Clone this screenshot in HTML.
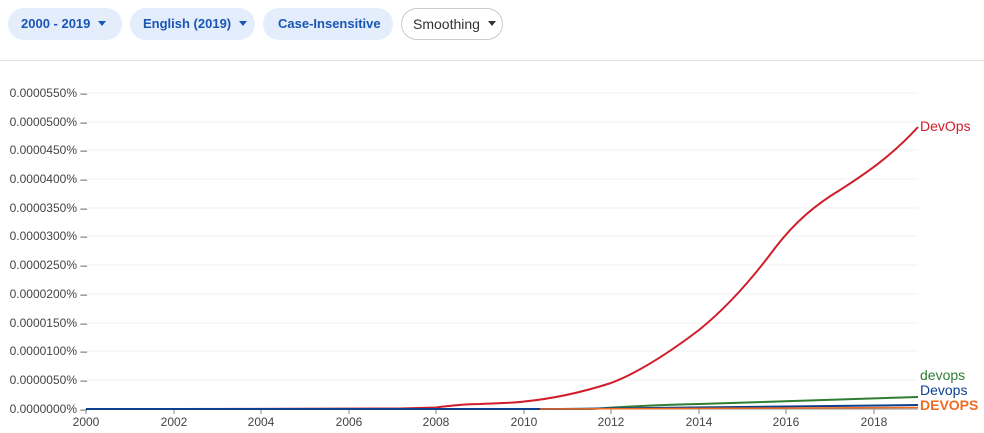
<!DOCTYPE html><html><head><style>
body{margin:0;width:984px;height:433px;background:#fff;font-family:"Liberation Sans",Arial,sans-serif;overflow:hidden;position:relative}
.chip{position:absolute;top:8px;height:32px;border-radius:16px;background:#e3edfc;color:#1a56b5;font-weight:bold;font-size:13px;line-height:32px;box-sizing:border-box;padding-left:13px;white-space:nowrap}
.car{display:inline-block;border-left:4px solid transparent;border-right:4px solid transparent;border-top:5px solid currentColor;vertical-align:middle;margin-left:8px;margin-top:-3px}
</style></head><body>
<div class="chip" style="left:8px;width:114px">2000 - 2019<span class="car"></span></div>
<div class="chip" style="left:130px;width:125px">English (2019)<span class="car"></span></div>
<div class="chip" style="left:263px;width:130px;padding-left:15px">Case-Insensitive</div>
<div class="chip" style="left:401px;width:102px;background:#fff;border:1px solid #ccc;color:#333;font-weight:normal;padding-left:11px;line-height:30px;font-size:14px">Smoothing<span class="car"></span></div>
<div style="position:absolute;left:0;top:60px;width:984px;height:1px;background:#ddd"></div>
<svg width="984" height="433" style="position:absolute;left:0;top:0" font-family="Liberation Sans,Arial,sans-serif">
<g stroke="#f0f0f0" stroke-width="1">
<line x1="87" x2="918" y1="93" y2="93"/><line x1="87" x2="918" y1="122" y2="122"/><line x1="87" x2="918" y1="150" y2="150"/><line x1="87" x2="918" y1="179" y2="179"/><line x1="87" x2="918" y1="208" y2="208"/><line x1="87" x2="918" y1="236" y2="236"/><line x1="87" x2="918" y1="265" y2="265"/><line x1="87" x2="918" y1="294" y2="294"/><line x1="87" x2="918" y1="323" y2="323"/><line x1="87" x2="918" y1="351" y2="351"/><line x1="87" x2="918" y1="380" y2="380"/>
</g>
<g font-size="12" fill="#444" text-anchor="end">
<text x="87" y="97">0.0000550% –</text><text x="87" y="126">0.0000500% –</text><text x="87" y="154">0.0000450% –</text><text x="87" y="183">0.0000400% –</text><text x="87" y="212">0.0000350% –</text><text x="87" y="240">0.0000300% –</text><text x="87" y="269">0.0000250% –</text><text x="87" y="298">0.0000200% –</text><text x="87" y="327">0.0000150% –</text><text x="87" y="355">0.0000100% –</text><text x="87" y="384">0.0000050% –</text><text x="87" y="413">0.0000000% –</text>
</g>
<line x1="86" x2="918" y1="409" y2="409" stroke="#888"/>
<g stroke="#888"><line x1="86" x2="86" y1="409" y2="414"/><line x1="174" x2="174" y1="409" y2="414"/><line x1="261" x2="261" y1="409" y2="414"/><line x1="349" x2="349" y1="409" y2="414"/><line x1="436" x2="436" y1="409" y2="414"/><line x1="524" x2="524" y1="409" y2="414"/><line x1="611" x2="611" y1="409" y2="414"/><line x1="699" x2="699" y1="409" y2="414"/><line x1="786" x2="786" y1="409" y2="414"/><line x1="874" x2="874" y1="409" y2="414"/></g>
<g font-size="12" fill="#444" text-anchor="middle">
<text x="86" y="426">2000</text><text x="174" y="426">2002</text><text x="261" y="426">2004</text><text x="349" y="426">2006</text><text x="436" y="426">2008</text><text x="524" y="426">2010</text><text x="611" y="426">2012</text><text x="699" y="426">2014</text><text x="786" y="426">2016</text><text x="874" y="426">2018</text>
</g>
<g fill="none" stroke-width="2">
<path d="M86 409 L180 409 L400 408.5 L436 407.5 C455 405 470 404 480 404 C500 403 515 403 524 401.5 C550 399 580 393 611 383 C640 372 670 352 699 330 C730 305 755 275 775 248 C795 222 815 205 840 190 C860 177 890 158 918 127" stroke="#d01c2b"/>
<path d="M86 409 L590 409 C620 407 650 405 699 404 L918 397" stroke="#2e7d32"/>
<path d="M86 409 L560 409 C600 408.5 650 407 918 405" stroke="#0d3f8f"/>
<path d="M540 409 L918 407.5" stroke="#f26b21" stroke-width="1.5"/>
</g>
<g font-size="14">
<text x="920" y="131" fill="#d01c2b">DevOps</text>
<text x="920" y="380" fill="#2e7d32">devops</text>
<text x="920" y="395" fill="#0d3f8f">Devops</text>
<text x="920" y="410" fill="#f26b21" font-weight="bold">DEVOPS</text>
</g>
</svg>
</body></html>
